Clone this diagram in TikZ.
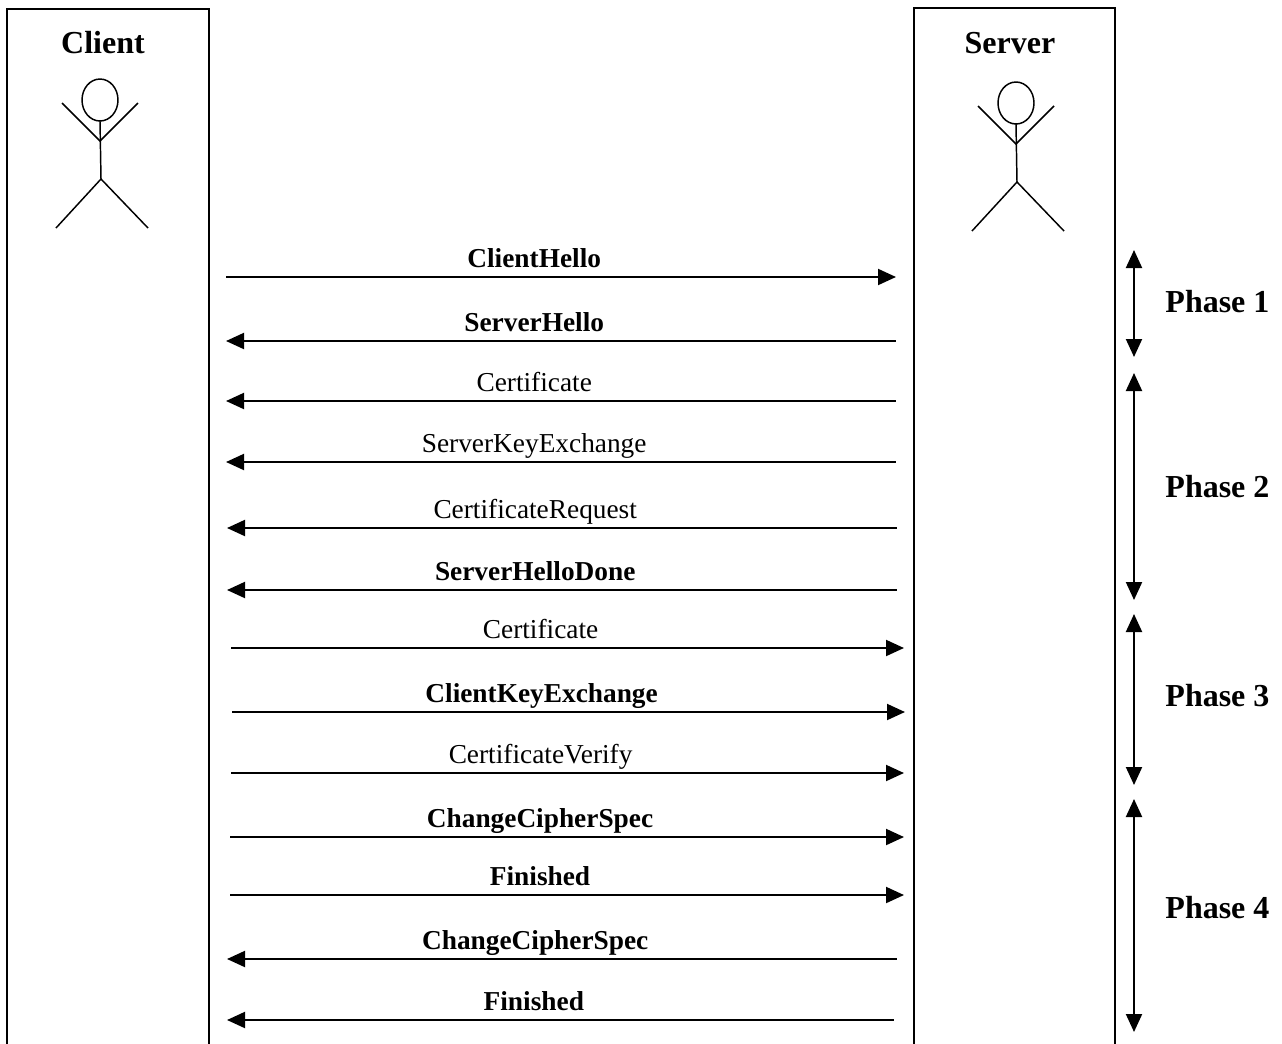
\documentclass[tikz,border=0pt]{standalone}
\usepackage{fontspec}
\setmainfont{Liberation Serif}
\usetikzlibrary{arrows.meta}

\begin{document}
\begin{tikzpicture}[x=0.75pt,y=-0.75pt,>={Triangle[length=13.5pt,width=12pt]},
  line width=1.5pt,
  party/.style={font=\bfseries\fontsize{24}{28}\selectfont},
  lbl/.style={pos=.46,above=6.5pt,inner sep=0pt,text depth=0pt,font=\fontsize{20.5}{24}\selectfont},
  blbl/.style={lbl,font=\bfseries\fontsize{20.5}{24}\selectfont},
  phase/.style={anchor=west,font=\bfseries\fontsize{24}{28}\selectfont},
  stickman/.pic={
    \draw[line width=1.1pt] (0,0) ellipse [x radius=18,y radius=21];
    \draw[line width=1.1pt] (-38,3) -- (0,41) -- (38,3);
    \draw[line width=1.1pt] (0,21) -- (1,79);
    \draw[line width=1.1pt] (-44,128) -- (1,79) -- (48,128);
  }]

  \useasboundingbox (0,0) rectangle (1282,1043);

  % lifelines
  \draw (7,1050) -- (7,9) -- (209,9) -- (209,1050);
  \draw (914,1050) -- (914,8) -- (1115,8) -- (1115,1050);
  \node[party] (client) at (103,43) {Client};
  \node[party] (server) at (1010,43) {Server};
  \pic at (100,100) {stickman};
  \pic at (1016,103) {stickman};

  % message end points
  \foreach \n/\y/\xa/\xb in {1/277/226/896,2/341/226/896,3/401/226/896,
      4/462/226/896,5/528/227/897,6/590/227/897,7/648/231/904,8/712/232/905,
      9/773/231/904,10/837/230/904,11/895/230/904,12/959/227/897,13/1020/227/894} {
    \coordinate (c\n) at (\xa,\y);
    \coordinate (s\n) at (\xb,\y);
  }

  \draw[->] (c1) -- node[blbl] {ClientHello} (s1);
  \draw[<-] (c2) -- node[blbl] {ServerHello} (s2);
  \draw[<-] (c3) -- node[lbl] {Certificate} (s3);
  \draw[<-] (c4) -- node[lbl] {ServerKeyExchange} (s4);
  \draw[<-] (c5) -- node[lbl] {CertificateRequest} (s5);
  \draw[<-] (c6) -- node[blbl] {ServerHelloDone} (s6);
  \draw[->] (c7) -- node[lbl] {Certificate} (s7);
  \draw[->] (c8) -- node[blbl] {ClientKeyExchange} (s8);
  \draw[->] (c9) -- node[lbl] {CertificateVerify} (s9);
  \draw[->] (c10) -- node[blbl] {ChangeCipherSpec} (s10);
  \draw[->] (c11) -- node[blbl] {Finished} (s11);
  \draw[<-] (c12) -- node[blbl] {ChangeCipherSpec} (s12);
  \draw[<-] (c13) -- node[blbl] {Finished} (s13);

  % phases
  \coordinate (ph1a) at (1134,250); \coordinate (ph1b) at (1134,357);
  \coordinate (ph2a) at (1134,373); \coordinate (ph2b) at (1134,600);
  \coordinate (ph3a) at (1134,614); \coordinate (ph3b) at (1134,785);
  \coordinate (ph4a) at (1134,799); \coordinate (ph4b) at (1134,1032);
  \draw[<->] (ph1a) -- (ph1b);
  \draw[<->] (ph2a) -- (ph2b);
  \draw[<->] (ph3a) -- (ph3b);
  \draw[<->] (ph4a) -- (ph4b);
  \node[phase] (p1) at (1160,302) {Phase 1};
  \node[phase] (p2) at (1160,487) {Phase 2};
  \node[phase] (p3) at (1160,696) {Phase 3};
  \node[phase] (p4) at (1160,908) {Phase 4};
\end{tikzpicture}
\end{document}
